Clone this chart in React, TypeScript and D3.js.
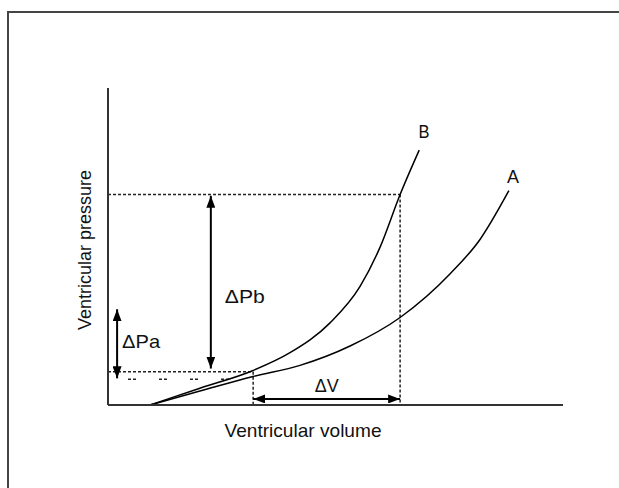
import React from "react";
import * as d3 from "d3";

// curve B (stiffer ventricle) and curve A, volume / pressure in arbitrary units
const volumeB = [9.2, 20.2, 31.9, 40.0, 48.8, 55.4, 59.8, 64.2, 68.4];
const pressureB = [0, 5.3, 10.9, 16.5, 25.9, 37.4, 49.8, 66.4, 80.4];
const volumeA = [9.2, 20.2, 31.9, 42.2, 53.2, 64.2, 75.2, 81.8, 88.1];
const pressureA = [0, 4.4, 9.0, 12.5, 18.6, 27.6, 41.4, 52.3, 67.6];

// reference levels
const pLow = 10.5; // lower dotted line
const pLowA = 8.1; // sparse dashed line
const pHigh = 66.4; // upper dotted line
const vLow = 31.9;
const vHigh = 64.2;

// arrows
const dPa = { v: 2.0, from: 30.2, to: 8.4 };
const dPb = { v: 22.6, from: 66.0, to: 11.5 };
const dV = { p: 1.9, from: 31.9, to: 64.2 };

const W = 619;
const H = 488;
const font = "'Liberation Sans', Arial, sans-serif";

export default function App() {
  const x = d3.scaleLinear().domain([0, 100]).range([108, 563]);
  const y = d3.scaleLinear().domain([0, 100]).range([405, 88]);

  const line = d3
    .line<[number, number]>()
    .x((d) => x(d[0]))
    .y((d) => y(d[1]))
    .curve(d3.curveMonotoneX);

  const ptsB = volumeB.map((v, i) => [v, pressureB[i]] as [number, number]);
  const ptsA = volumeA.map((v, i) => [v, pressureA[i]] as [number, number]);

  const dotted = { stroke: "#222", strokeWidth: 1.5, strokeDasharray: "3,2" };

  return (
    <svg
      width={W}
      height={H}
      style={{ position: "absolute", left: 0, top: 0, background: "#fff" }}
      fontFamily={font}
    >
      <defs>
        <marker
          id="ah"
          viewBox="0 0 12 9"
          refX="12"
          refY="4.5"
          markerWidth="12"
          markerHeight="9"
          markerUnits="userSpaceOnUse"
          orient="auto-start-reverse"
        >
          <path d="M0,0 L12,4.5 L0,9 z" fill="#000" />
        </marker>
      </defs>

      {/* frame */}
      <rect x={8} y={12} width={700} height={600} fill="none" stroke="#444" strokeWidth={2} />

      {/* dotted guides */}
      <line x1={x(0)} x2={x(vHigh)} y1={y(pHigh)} y2={y(pHigh)} {...dotted} />
      <line x1={x(0)} x2={x(vLow)} y1={y(pLow)} y2={y(pLow)} {...dotted} />
      <line x1={x(vLow)} x2={x(vLow)} y1={y(pLow)} y2={y(0)} {...dotted} />
      <line x1={x(vHigh)} x2={x(vHigh)} y1={y(pHigh)} y2={y(0)} {...dotted} />
      <line
        x1={128}
        x2={x(vLow) - 15}
        y1={y(pLowA)}
        y2={y(pLowA)}
        stroke="#222"
        strokeWidth={1.5}
        strokeDasharray="3,2,3,23"
      />

      {/* curves */}
      <path d={line(ptsB) || ""} fill="none" stroke="#000" strokeWidth={1.5} />
      <path d={line(ptsA) || ""} fill="none" stroke="#000" strokeWidth={1.5} />

      {/* axes */}
      <line x1={x(0)} x2={x(0)} y1={y(100)} y2={y(0)} stroke="#333" strokeWidth={2} />
      <line x1={x(0)} x2={x(100)} y1={y(0)} y2={y(0)} stroke="#333" strokeWidth={2} />

      {/* arrows */}
      <line
        x1={x(dPa.v)}
        x2={x(dPa.v)}
        y1={y(dPa.from)}
        y2={y(dPa.to)}
        stroke="#000"
        strokeWidth={2}
        markerStart="url(#ah)"
        markerEnd="url(#ah)"
      />
      <line
        x1={x(dPb.v)}
        x2={x(dPb.v)}
        y1={y(dPb.from)}
        y2={y(dPb.to)}
        stroke="#000"
        strokeWidth={2}
        markerStart="url(#ah)"
        markerEnd="url(#ah)"
      />
      <line
        x1={x(dV.from)}
        x2={x(dV.to)}
        y1={y(dV.p)}
        y2={y(dV.p)}
        stroke="#000"
        strokeWidth={2}
        markerStart="url(#ah)"
        markerEnd="url(#ah)"
      />

      {/* labels */}
      <g fontSize={19} fill="#111">
        <text x={x(dPa.v) + 5} y={348} textLength={38} lengthAdjust="spacingAndGlyphs">ΔPa</text>
        <text x={x(dPb.v) + 14} y={303} textLength={40} lengthAdjust="spacingAndGlyphs">ΔPb</text>
        <text
          x={(x(dV.from) + x(dV.to)) / 2}
          y={392}
          textAnchor="middle"
          textLength={24}
          lengthAdjust="spacingAndGlyphs"
        >
          ΔV
        </text>
        <text x={424} y={138} textAnchor="middle" textLength={11} lengthAdjust="spacingAndGlyphs">B</text>
        <text x={513} y={183} textAnchor="middle" textLength={12} lengthAdjust="spacingAndGlyphs">A</text>
        <text x={303} y={437} textAnchor="middle" textLength={157} lengthAdjust="spacingAndGlyphs">
          Ventricular volume
        </text>
        <text
          transform="translate(91,250) rotate(-90)"
          textAnchor="middle"
          textLength={160}
          lengthAdjust="spacingAndGlyphs"
        >
          Ventricular pressure
        </text>
      </g>
    </svg>
  );
}
